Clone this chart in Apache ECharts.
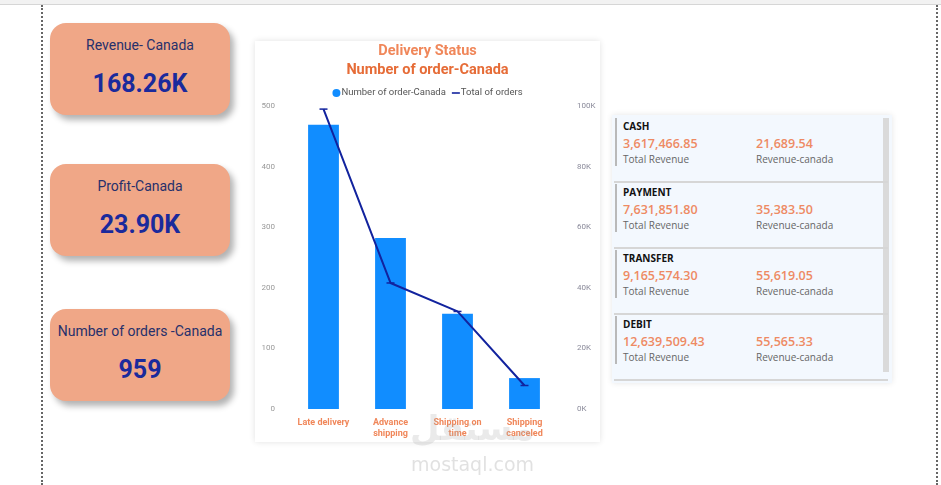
<!DOCTYPE html>
<html>
<head>
<meta charset="utf-8">
<script src="https://cdn.jsdelivr.net/npm/echarts@6/dist/echarts.min.js"></script>
<style>
  body { margin: 0; width: 941px; height: 485px; background: #fff; position: relative; overflow: hidden; font-family: 'Open Sans', sans-serif; }
  .topbar { position: absolute; left: 0; top: 0; width: 941px; height: 4px; background: #f2f2f2; border-bottom: 1px solid #d6d6d6; }
  .dots { position: absolute; top: 5px; bottom: 0; border-left: 2px dotted #666; }
  .card { position: absolute; left: 50px; width: 180px; height: 92px; background: #F0A787; border-radius: 16px; box-shadow: 4px 5px 6px rgba(0,0,0,.3); text-align: center; font-family: Roboto, sans-serif; }
  .card .t { position: absolute; left: 0; right: 0; top: 14px; font-size: 14px; color: #27306b; }
  .card .v { position: absolute; left: 0; right: 0; top: 46px; font-size: 25px; font-weight: bold; color: #1a2a9c; }
  .panel { position: absolute; left: 255px; top: 41px; width: 345px; height: 401px; background: #fff; box-shadow: 0 0 6px rgba(0,0,0,.12); }
  #chart { width: 345px; height: 401px; }
  .table { position: absolute; left: 612px; top: 115px; width: 280px; height: 268px; background: #f3f8fe; box-shadow: 0 0 6px rgba(0,0,0,.1); }
  .scroll { position: absolute; left: 271px; top: 3px; width: 6px; height: 254px; background: #dadada; }
  .row { position: absolute; left: 2px; width: 274px; height: 66px; border-bottom: 2px solid #d6d6d6; }
  .row .bar { position: absolute; left: 1px; top: 3px; width: 2px; height: 48px; background: #b9b9b9; }
  .row .h { position: absolute; left: 9px; top: 4px; font-size: 10px; font-weight: bold; color: #111; }
  .row .n { position: absolute; top: 20px; font-size: 12.5px; font-weight: 600; color: #EE8A63; }
  .row .l { position: absolute; top: 37px; font-size: 10px; color: #666; }
  .wm1 { position: absolute; left: 410px; top: 408px; font-family: 'DejaVu Sans', sans-serif; font-size: 34px; font-weight: bold; color: rgba(170,170,170,.25); pointer-events: none; }
  .wm2 { position: absolute; left: 411px; top: 453px; font-family: 'DejaVu Sans', sans-serif; font-size: 19px; color: rgba(170,170,170,.35); }
</style>
</head>
<body>
<div class="topbar"></div>
<div class="dots" style="left:41px"></div>
<div class="dots" style="left:936px"></div>
<div id="cards"></div>
<div class="panel"><div id="chart"></div></div>
<div class="table" id="table"><div class="scroll"></div></div>
<div class="wm1">مستقل</div>
<div class="wm2">mostaql.com</div>
<script>
// KPI cards
var kpiTitles = ['Revenue- Canada', 'Profit-Canada', 'Number of orders -Canada']
var kpiValues = ['168.26K', '23.90K', '959']
var kpiTops = [23, 164, 309]

// 配送状态
var categories = ['Late delivery', 'Advance\nshipping', 'Shipping on\ntime', 'Shipping\ncanceled']
var ordersCanada = [469, 282, 157, 51]
var totalOrders = [98977, 41592, 32196, 7754]

// payment table
var payTypes = ['CASH', 'PAYMENT', 'TRANSFER', 'DEBIT']
var payTotal = ['3,617,466.85', '7,631,851.80', '9,165,574.30', '12,639,509.43']
var payCanada = ['21,689.54', '35,383.50', '55,619.05', '55,565.33']

var cardsHtml = ''
for (var i = 0; i < kpiTitles.length; i++) {
  cardsHtml += '<div class="card" style="top:' + kpiTops[i] + 'px"><div class="t">' + kpiTitles[i] +
    '</div><div class="v">' + kpiValues[i] + '</div></div>'
}
document.getElementById('cards').innerHTML = cardsHtml

var tableHtml = ''
for (var j = 0; j < payTypes.length; j++) {
  tableHtml += '<div class="row" style="top:' + (j * 66) + 'px"><div class="bar"></div>' +
    '<div class="h">' + payTypes[j] + '</div>' +
    '<div class="n" style="left:9px">' + payTotal[j] + '</div>' +
    '<div class="n" style="left:142px">' + payCanada[j] + '</div>' +
    '<div class="l" style="left:9px">Total Revenue</div>' +
    '<div class="l" style="left:142px">Revenue-canada</div></div>'
}
document.getElementById('table').insertAdjacentHTML('beforeend', tableHtml)

;(function () {
  var myChart = echarts.init(document.getElementById('chart'))
  var option = {
    title: [
      { text: 'Delivery Status', left: 'center', top: -2, textStyle: { color: '#F0875A', fontSize: 14.5, fontWeight: 'bold', fontFamily: 'Roboto' } },
      { text: 'Number of order-Canada', left: 'center', top: 17, textStyle: { color: '#E66C37', fontSize: 14.5, fontWeight: 'bold', fontFamily: 'Roboto' } }
    ],
    legend: {
      top: 42,
      left: 'center',
      itemGap: 6,
      itemWidth: 8,
      itemHeight: 8,
      textStyle: { color: '#555', fontSize: 9.5, fontFamily: 'Roboto', padding: [0, 0, 0, -4] },
      data: [
        { name: 'Number of order-Canada', icon: 'circle' },
        { name: 'Total of orders', icon: 'path://M0,4h10v2h-10z', itemStyle: { color: '#12239E' } }
      ]
    },
    grid: { left: 35, right: 42, top: 65, bottom: 33, containLabel: false },
    xAxis: {
      type: 'category',
      data: categories,
      axisLine: { show: false },
      axisTick: { show: false },
      axisLabel: { color: '#F0875A', fontSize: 9, fontWeight: 'bold', fontFamily: 'Roboto', lineHeight: 11, margin: 8, interval: 0 }
    },
    yAxis: [
      {
        type: 'value', min: 0, max: 500, interval: 100,
        splitLine: { show: false },
        axisLabel: { color: '#999', fontSize: 8, fontFamily: 'Roboto', margin: 15 }
      },
      {
        type: 'value', min: 0, max: 100000, interval: 20000,
        splitLine: { show: false },
        axisLabel: {
          color: '#8a8a9a', fontSize: 8, fontFamily: 'Roboto', margin: 19,
          formatter: function (v) { return (v / 1000) + 'K' }
        }
      }
    ],
    series: [
      {
        name: 'Number of order-Canada',
        type: 'bar',
        data: ordersCanada,
        barWidth: '46%',
        itemStyle: { color: '#118DFF' }
      },
      {
        name: 'Total of orders',
        type: 'line',
        yAxisIndex: 1,
        data: totalOrders,
        symbol: 'rect',
        symbolSize: [8, 1.5],
        lineStyle: { color: '#12239E', width: 2 },
        itemStyle: { color: '#12239E' }
      }
    ]
  }
  myChart.setOption(option)
})();
</script>
</body>
</html>
